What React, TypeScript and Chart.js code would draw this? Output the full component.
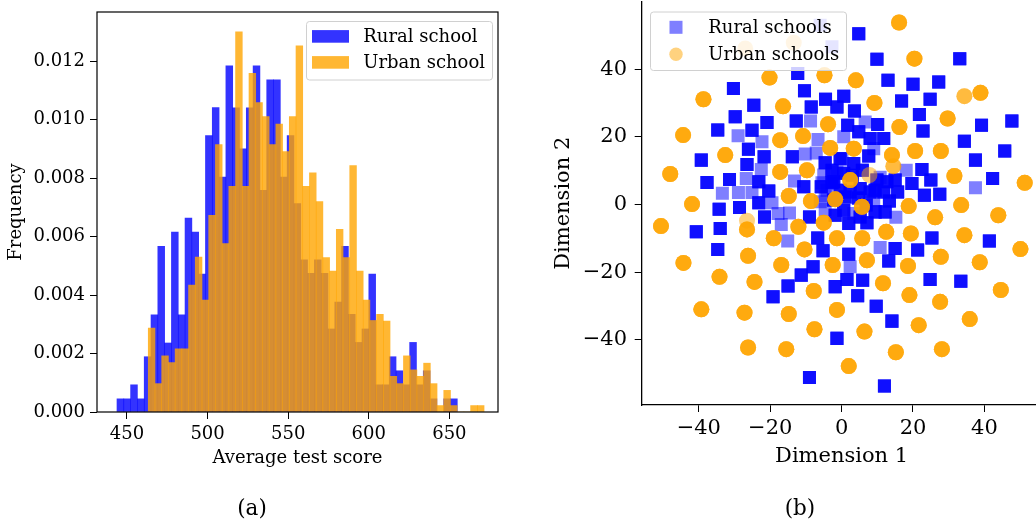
import React, { useEffect, useRef } from "react";
import { Chart, registerables } from "chart.js";

Chart.register(...registerables);

const FONT = "'DejaVu Serif', serif";

// ---------- (a) histogram of average test scores ----------
const ruralLabel = "Rural school";
const urbanLabel = "Urban school";
const ruralBinStart = 443.8;
const ruralBinWidth = 4.222;
const ruralDensity = [
  0.00045, 0.00045, 0.00093, 0.00045, 0.00189, 0.00332, 0.00567, 0.00236, 0.00615, 0.00332,
  0.00663, 0.00615, 0.00472, 0.00945, 0.01041, 0.00803, 0.01184, 0.0104, 0.009, 0.0104,
  0.01184, 0.00758, 0.01136, 0.01136, 0.00803, 0.00945, 0.00713, 0.0052, 0.00474, 0.0052,
  0.00474, 0.00284, 0.00376, 0.00567, 0.00334, 0.00238, 0.00284, 0.00472, 0.00093, 0.00093,
  0.00189, 0.00141, 0.00093, 0.00238, 0.00093, 0.00141, 0.00045, 0, 0.00045, 0.00045,
];
const urbanBinStart = 463.2;
const urbanBinWidth = 4.166;
const urbanDensity = [
  0.00287, 0.00097, 0.00192, 0.00169, 0.00216, 0.00216, 0.00434, 0.0053, 0.00383, 0.00673,
  0.00915, 0.00576, 0.00772, 0.013, 0.00772, 0.01158, 0.01058, 0.0101, 0.00915, 0.00985,
  0.00891, 0.0101, 0.01252, 0.00772, 0.00818, 0.0072, 0.00528, 0.00482, 0.00625, 0.00528,
  0.00843, 0.00482, 0.00383, 0.00313, 0.00334, 0.00311, 0.00122, 0.00097, 0.00192, 0.00144,
  0.00122, 0.00167, 0.00097, 0.00022, 0.00074, 0.00022, 0, 0, 0.00022, 0.00022,
];
const histXTicks = [450, 500, 550, 600, 650];
const histYTicks = [0, 0.002, 0.004, 0.006, 0.008, 0.01, 0.012];

// ---------- (b) 2-D embedding of schools ----------
const ruralPtsLabel = "Rural schools";
const urbanPtsLabel = "Urban schools";
// n = number of overlapping samples at that spot
const ruralX = [
  -6.0, -2.7, -12.3, -30.3, -10.4, -24.6, -8.5, -4.5, -1.3, -29.8, -20.9, -12.7, -8.7, -34.7, -29.0, -25.1, -6.6, -22.3, -26.1, -10.2,
  -7.1, -39.3, -21.7, -13.8, -4.6, -26.5, -22.5, -37.7, -31.4, -26.7, -23.2, -13.2, -10.6, -5.5, -2.7, -33.4, -28.9, -25.1, -20.4, -4.6,
  -34.3, -28.6, -23.2, -19.5, -17.8, -14.6, -9.0, -4.6, -40.7, -34.0, -21.6, -16.9, -6.7, -15.1, -34.7, -5.2, -8.0, -11.3, -15.0, -1.8,
  -19.2, -1.3, -9.0, 4.8, 9.9, 33.1, 13.0, 20.0, 27.2, 0.6, 16.8, 24.8, 3.6, 21.8, 1.7, 6.6, 10.1, 39.2, 47.7, 22.8,
  4.8, 0.6, 8.0, 11.8, 34.4, 9.0, 45.7, -0.4, 3.4, 7.6, 37.5, 18.1, 22.5, 10.8, 15.0, 25.0, 42.3, 19.7, 37.5, 11.8,
  15.7, 23.2, 27.5, 9.0, 13.4, 12.2, 15.2, 2.0, 7.1, 25.3, 41.4, 10.8, 15.0, 21.3, 2.0, 13.2, 2.4, 1.5, 5.9, 24.8,
  33.4, 4.5, 9.7, 14.1, 12.0, 0.1, -5.0, -5.7, -2.2, 5.2, 9.4, 12.7, 1.0, 2.4, 9.4, 0.6, 3.4, 5.2, -1.8, -6.0,
  -4.1, -1.3, 0.6, -2.7, 9.9, 8.0, -2.3, 4.7, 6.9, 3.0, -0.4, 5.8,
];
const ruralY = [
  53.0, 46.6, 38.7, 34.3, 33.6, 29.3, 28.8, 31.1, 28.8, 25.9, 24.2, 24.7, 24.7, 22.0, 20.3, 21.9, 19.2, 18.5, 16.3, 14.9,
  15.2, 13.1, 14.1, 14.1, 12.3, 11.8, 10.3, 6.5, 7.4, 7.7, 6.7, 6.9, 5.2, 6.4, 6.4, 3.3, 3.5, 3.5, 4.0, 2.5,
  -1.4, -0.9, 0.5, 0.5, -2.7, -2.5, -3.7, -1.5, -8.1, -7.1, -3.7, -5.9, -9.9, -10.8, -13.3, -13.7, -18.4, -20.9, -24.1, -24.3,
  -27.3, -39.6, -51.2, 50.5, 42.9, 43.1, 36.7, 35.5, 36.2, 32.0, 30.6, 31.1, 27.6, 26.6, 23.4, 24.4, 23.6, 23.4, 24.7, 21.7,
  21.5, 20.0, 19.5, 19.5, 18.7, 16.5, 15.8, 13.6, 12.1, 14.3, 13.1, 10.1, 10.3, 8.0, 7.2, 7.2, 7.7, 6.2, 4.9, 3.7,
  3.7, 2.7, 3.0, 1.3, 1.0, -2.2, -3.8, -5.6, -5.4, -9.9, -10.8, -12.7, -13.0, -13.5, -14.7, -16.7, -18.4, -22.2, -22.4, -22.2,
  -22.7, -27.0, -30.1, -34.5, -53.7, 13.3, 8.7, 5.2, 6.7, 4.7, 4.2, 6.7, 2.2, 3.7, -2.2, -1.7, -2.7, -3.7, -3.2, 0.8,
  4.2, 9.6, 9.2, 10.1, 7.2, 3.7, 1.3, 1.9, -0.2, 8.6, 4.2, 10.1,
];
const ruralN = [
  1, 1, 4, 4, 4, 4, 4, 4, 4, 4, 4, 4, 1, 4, 1, 4, 1, 1, 4, 1,
  1, 4, 4, 4, 4, 4, 1, 4, 4, 1, 4, 1, 4, 1, 4, 1, 1, 1, 4, 1,
  4, 4, 4, 1, 1, 1, 4, 1, 4, 4, 4, 1, 4, 1, 4, 4, 4, 4, 4, 4,
  4, 4, 4, 4, 4, 4, 4, 4, 4, 4, 4, 4, 4, 4, 4, 1, 4, 4, 4, 4,
  4, 1, 4, 4, 4, 1, 4, 4, 4, 4, 4, 1, 4, 1, 4, 4, 4, 4, 1, 4,
  4, 4, 4, 1, 4, 4, 1, 4, 4, 4, 4, 1, 4, 4, 4, 4, 1, 4, 4, 4,
  4, 4, 4, 4, 4, 1, 1, 4, 4, 4, 4, 4, 4, 4, 4, 4, 1, 4, 4, 1,
  1, 1, 4, 4, 4, 4, 4, 4, 4, 4, 4, 4,
];
const urbanX = [
  -13.4, -27.0, -20.2, -4.8, -38.7, -16.4, -3.8, -44.4, -17.2, -10.8, -3.2, -32.6, -17.2, -9.7, -48.0, -14.8, -8.6, -1.8, -41.9, -50.6,
  -26.5, -12.1, -5.0, -1.3, -19.0, -10.4, -44.3, -26.2, -16.9, -2.5, -34.2, -24.4, -7.8, -39.3, -27.2, -14.8, -1.3, -7.6, -26.2, -15.5,
  16.1, 20.4, 4.0, 34.4, 38.9, 9.2, 29.7, 16.2, 3.4, 14.1, 20.6, 27.8, 14.5, 7.8, 2.4, 31.6, 51.3, 5.7, 18.8, 33.5,
  43.9, 26.2, 12.5, 19.4, 5.8, 34.4, 50.1, 7.1, 27.8, 38.7, 18.6, 11.6, 44.6, 19.0, 27.6, 35.9, 21.6, 6.4, 15.2, 28.1,
  2.0, -26.5,
];
const urbanY = [
  47.8, 46.1, 37.5, 38.2, 31.1, 29.0, 23.7, 20.5, 19.0, 20.2, 16.7, 14.6, 9.6, 10.1, 9.0, 2.5, 1.0, 1.5, 0.1, -6.4,
  -7.4, -6.6, -5.4, -10.0, -10.0, -13.3, -17.3, -15.2, -17.9, -17.9, -21.4, -22.9, -25.6, -31.0, -32.0, -32.4, -31.2, -36.9, -42.3, -42.8,
  53.8, 43.1, 36.7, 32.0, 33.0, 30.0, 25.4, 22.9, 16.5, 14.6, 15.8, 15.8, 11.3, 8.7, 7.2, 8.4, 6.4, -0.7, -0.5, -0.2,
  -3.2, -3.8, -8.1, -8.6, -10.0, -9.1, -13.2, -16.5, -15.5, -17.1, -18.2, -23.3, -25.3, -26.8, -28.8, -33.9, -35.7, -37.6, -43.7, -42.8,
  -47.8, -4.8,
];
const urbanN = [
  1, 1, 4, 4, 4, 4, 4, 4, 4, 4, 4, 4, 4, 4, 4, 4, 4, 4, 4, 4,
  4, 4, 4, 4, 4, 4, 4, 4, 4, 4, 4, 4, 4, 4, 4, 4, 4, 4, 4, 4,
  4, 4, 4, 2, 4, 4, 4, 4, 4, 4, 4, 4, 2, 1, 4, 4, 4, 4, 4, 4,
  4, 4, 4, 4, 4, 4, 4, 4, 4, 4, 4, 4, 4, 4, 4, 4, 4, 4, 4, 4,
  4, 1,
];
const scatterTicks = [-40, -20, 0, 20, 40];

// ---------- helpers ----------
const BLUE_BAR = "rgba(0,0,255,0.8)";
const ORANGE_BAR = "rgba(255,165,0,0.8)";
const BLUE_PT = "rgba(0,0,255,0.5)";
const ORANGE_PT = "rgba(255,165,0,0.5)";

function binBars(start: number, width: number, dens: number[]) {
  return dens.map((v, i) => ({ x: start + width * (i + 0.5), y: v }));
}
function expandPoints(xs: number[], ys: number[], ns: number[]) {
  const out: { x: number; y: number }[] = [];
  xs.forEach((x, i) => {
    for (let k = 0; k < ns[i]; k++) out.push({ x, y: ys[i] });
  });
  return out;
}
function roundRect(ctx: CanvasRenderingContext2D, x: number, y: number, w: number, h: number, r: number) {
  ctx.beginPath();
  ctx.moveTo(x + r, y);
  ctx.lineTo(x + w - r, y);
  ctx.arcTo(x + w, y, x + w, y + r, r);
  ctx.lineTo(x + w, y + h - r);
  ctx.arcTo(x + w, y + h, x + w - r, y + h, r);
  ctx.lineTo(x + r, y + h);
  ctx.arcTo(x, y + h, x, y + h - r, r);
  ctx.lineTo(x, y + r);
  ctx.arcTo(x, y, x + r, y, r);
  ctx.closePath();
}
const minusFmt = (v: number) => (v < 0 ? "\u2212" + Math.abs(v) : String(v));

const histFrame = {
  id: "histFrame",
  afterDraw(chart: any) {
    const { ctx, chartArea: a } = chart;
    ctx.save();
    ctx.strokeStyle = "#000";
    ctx.lineWidth = 1.2;
    ctx.strokeRect(a.left, a.top, a.right - a.left, a.bottom - a.top);
    // legend
    roundRect(ctx, 306.5, 21.5, 186, 58.5, 3);
    ctx.fillStyle = "rgba(255,255,255,0.8)";
    ctx.fill();
    ctx.strokeStyle = "#d0d0d0";
    ctx.lineWidth = 1;
    ctx.stroke();
    const ds = chart.data.datasets;
    const rows = [36.4, 62.4];
    ds.forEach((d: any, i: number) => {
      ctx.fillStyle = d.backgroundColor;
      ctx.fillRect(312, rows[i] - 6.3, 37, 12.6);
      ctx.fillStyle = "#000";
      ctx.font = `18px ${FONT}`;
      ctx.textAlign = "left";
      ctx.textBaseline = "alphabetic";
      ctx.fillText(d.label, 363.3, rows[i] + 6);
    });
    ctx.restore();
  },
};

const scatterLegend = {
  id: "scatterLegend",
  afterDraw(chart: any) {
    const { ctx } = chart;
    ctx.save();
    roundRect(ctx, 110.5, 12, 196, 58.5, 3);
    ctx.fillStyle = "rgba(255,255,255,0.8)";
    ctx.fill();
    ctx.strokeStyle = "#d0d0d0";
    ctx.lineWidth = 1;
    ctx.stroke();
    const ds = chart.data.datasets;
    const rows = [27.3, 54.3];
    ds.forEach((d: any, i: number) => {
      ctx.fillStyle = d.backgroundColor;
      if (d.pointStyle === "rect") {
        ctx.fillRect(136 - 6.5, rows[i] - 6.5, 13, 13);
      } else {
        ctx.beginPath();
        ctx.arc(136, rows[i], 6.7, 0, Math.PI * 2);
        ctx.fill();
      }
      ctx.fillStyle = "#000";
      ctx.font = `18px ${FONT}`;
      ctx.textAlign = "left";
      ctx.textBaseline = "alphabetic";
      ctx.fillText(d.label, 168.3, rows[i] + 6);
    });
    ctx.restore();
  },
};

function histConfig(): any {
  const tickFont = { family: FONT, size: 18 };
  return {
    type: "bar",
    data: {
      datasets: [
        {
          label: ruralLabel,
          data: binBars(ruralBinStart, ruralBinWidth, ruralDensity),
          xAxisID: "x",
          backgroundColor: BLUE_BAR,
          borderWidth: 0,
          barPercentage: 1,
          categoryPercentage: 1,
          grouped: false,
          order: 2,
        },
        {
          label: urbanLabel,
          data: binBars(urbanBinStart, urbanBinWidth, urbanDensity),
          xAxisID: "x2",
          backgroundColor: ORANGE_BAR,
          borderWidth: 0,
          barPercentage: 1,
          categoryPercentage: 1,
          grouped: false,
          order: 1,
        },
      ],
    },
    options: {
      responsive: false,
      devicePixelRatio: 1,
      animation: false,
      events: [],
      layout: { autoPadding: false, padding: { left: 0, top: 12, right: 22, bottom: 52 } },
      plugins: { legend: { display: false }, tooltip: { enabled: false } },
      scales: {
        x: {
          type: "linear",
          position: "bottom",
          min: 431.4,
          max: 680.15,
          offset: false,
          afterBuildTicks: (s: any) => {
            s.ticks = histXTicks.map((value) => ({ value }));
          },
          afterFit: (s: any) => {
            s.height = 57;
            s.paddingLeft = 0;
            s.paddingRight = 0;
          },
          grid: { drawOnChartArea: false, drawTicks: true, tickLength: 7, color: "#000", offset: false },
          border: { display: false },
          ticks: {
            font: tickFont,
            color: "#000",
            padding: 5,
            maxRotation: 0,
            autoSkip: false,
            callback: (v: number) => String(v),
          },
          title: {
            display: true,
            text: "Average test score",
            font: tickFont,
            color: "#000",
            padding: { top: 0, bottom: 0 },
          },
        },
        x2: {
          type: "linear",
          position: "bottom",
          min: 431.4,
          max: 680.15,
          offset: false,
          display: false,
          afterBuildTicks: (s: any) => {
            s.ticks = histXTicks.map((value) => ({ value }));
          },
        },
        y: {
          type: "linear",
          min: 0,
          max: 0.01368,
          afterBuildTicks: (s: any) => {
            s.ticks = histYTicks.map((value) => ({ value }));
          },
          afterFit: (s: any) => {
            s.width = 97;
            s.paddingTop = 0;
            s.paddingBottom = 0;
          },
          grid: { drawOnChartArea: false, drawTicks: true, tickLength: 7, color: "#000" },
          border: { display: false },
          ticks: {
            font: tickFont,
            color: "#000",
            padding: 5,
            autoSkip: false,
            callback: (v: number) => Number(v).toFixed(3),
          },
          title: {
            display: true,
            text: "Frequency",
            font: tickFont,
            color: "#000",
            padding: { top: 6, bottom: 0 },
          },
        },
      },
    },
    plugins: [histFrame],
  };
}

function scatterConfig(): any {
  const f = { family: FONT, size: 21 };
  return {
    type: "scatter",
    data: {
      datasets: [
        {
          label: ruralPtsLabel,
          data: expandPoints(ruralX, ruralY, ruralN),
          backgroundColor: BLUE_PT,
          borderWidth: 0,
          pointStyle: "rect",
          pointRadius: 9.2,
          order: 2,
        },
        {
          label: urbanPtsLabel,
          data: expandPoints(urbanX, urbanY, urbanN),
          backgroundColor: ORANGE_PT,
          borderWidth: 0,
          pointStyle: "circle",
          pointRadius: 8,
          order: 1,
        },
      ],
    },
    options: {
      responsive: false,
      devicePixelRatio: 1,
      animation: false,
      events: [],
      layout: { autoPadding: false, padding: { left: 0, top: 1.5, right: 18.5, bottom: 52 } },
      plugins: { legend: { display: false }, tooltip: { enabled: false } },
      scales: {
        x: {
          type: "linear",
          min: -56,
          max: 56,
          afterBuildTicks: (s: any) => {
            s.ticks = scatterTicks.map((value) => ({ value }));
          },
          afterFit: (s: any) => {
            s.height = 64;
            s.paddingLeft = 0;
            s.paddingRight = 0;
          },
          grid: { drawOnChartArea: false, drawTicks: true, tickLength: 7, color: "#000" },
          border: { display: true, color: "#000", width: 1.3 },
          ticks: { font: f, color: "#000", padding: 4, maxRotation: 0, autoSkip: false, callback: minusFmt },
          title: { display: true, text: "Dimension 1", font: f, color: "#000", padding: { top: 0, bottom: 0 } },
        },
        y: {
          type: "linear",
          min: -59.3,
          max: 60,
          afterBuildTicks: (s: any) => {
            s.ticks = scatterTicks.map((value) => ({ value }));
          },
          afterFit: (s: any) => {
            s.width = 101.7;
            s.paddingTop = 0;
            s.paddingBottom = 0;
          },
          grid: { drawOnChartArea: false, drawTicks: true, tickLength: 7, color: "#000" },
          border: { display: true, color: "#000", width: 1.3 },
          ticks: { font: f, color: "#000", padding: 7.7, autoSkip: false, callback: minusFmt },
          title: { display: true, text: "Dimension 2", font: f, color: "#000", padding: { top: 11.4, bottom: 0 } },
        },
      },
    },
    plugins: [scatterLegend],
  };
}

const captionStyle = (cx: number): React.CSSProperties => ({
  position: "absolute",
  left: cx - 40,
  width: 80,
  top: 495.6,
  textAlign: "center",
  fontFamily: FONT,
  fontSize: 21.5,
  lineHeight: "24px",
  color: "#000",
});

export default function App() {
  const leftRef = useRef<HTMLCanvasElement>(null);
  const rightRef = useRef<HTMLCanvasElement>(null);
  useEffect(() => {
    const left = new Chart(leftRef.current as HTMLCanvasElement, histConfig());
    const right = new Chart(rightRef.current as HTMLCanvasElement, scatterConfig());
    return () => {
      left.destroy();
      right.destroy();
    };
  }, []);
  return (
    <div
      style={{
        position: "absolute",
        left: 0,
        top: 0,
        width: 1036,
        height: 521,
        overflow: "hidden",
        background: "#fff",
      }}
    >
      <canvas ref={leftRef} width={520} height={521} style={{ position: "absolute", left: 0, top: 0 }} />
      <canvas ref={rightRef} width={520} height={521} style={{ position: "absolute", left: 540, top: 0 }} />
      <div style={captionStyle(252)}>(a)</div>
      <div style={captionStyle(800)}>(b)</div>
    </div>
  );
}
